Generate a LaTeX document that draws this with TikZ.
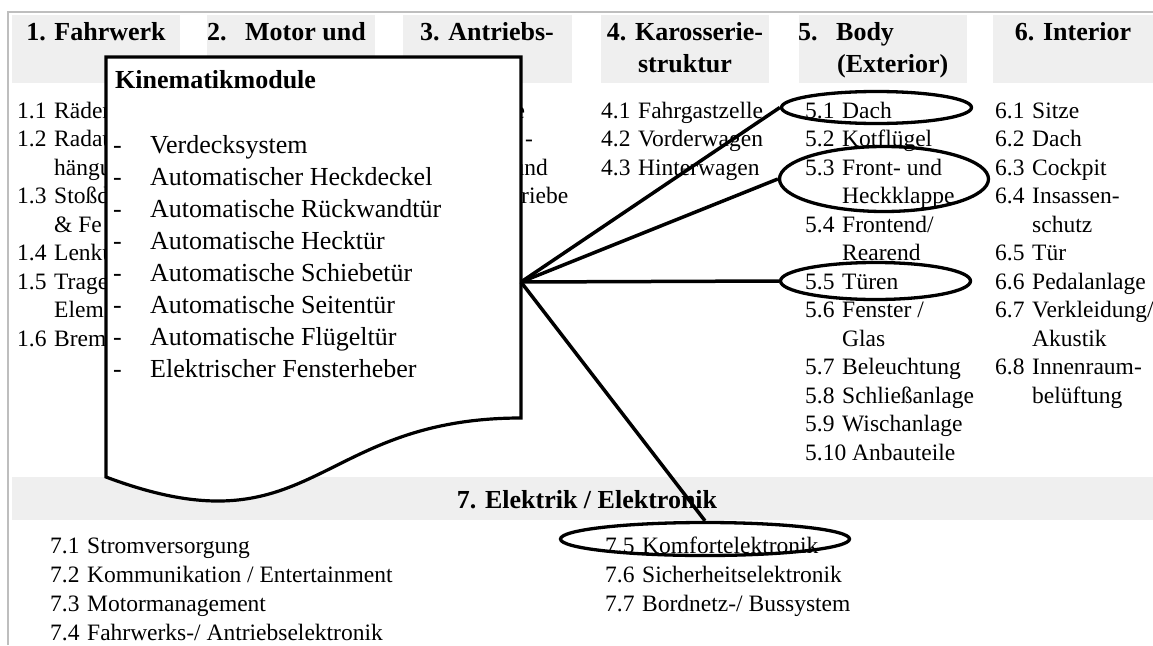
\documentclass[tikz,border=0pt]{standalone}
\usepackage{fontspec}
\setmainfont{Liberation Serif}
\usetikzlibrary{shapes.geometric}
\definecolor{hdrgray}{RGB}{239,239,239}
\definecolor{framegray}{RGB}{190,190,190}
% number followed by a tab stop
\newcommand{\nb}[2]{\makebox[37pt][l]{#1}#2}
\newcommand{\hnb}[2]{\makebox[38pt][l]{#1}#2}
\begin{document}
\begin{tikzpicture}[x=1pt,y=-1pt,
  hdrbox/.style={fill=hdrgray,draw=none},
  hdr/.style={font=\fontsize{26}{32}\selectfont\bfseries,inner sep=0,anchor=base},
  hdrl/.style={hdr,anchor=base west},
  itm/.style={font=\fontsize{23.5}{28}\selectfont,inner sep=0,anchor=base west},
  kin/.style={font=\fontsize{26}{32}\selectfont,inner sep=0,anchor=base west},
  hilite/.style={draw=black,line width=3.3pt,ellipse,inner sep=0,fill=none},
  link/.style={draw=black,line width=3.5pt},
  frameline/.style={draw=framegray,line width=2pt}]
\useasboundingbox (0,0) rectangle (1153,645);

% outer frame
\draw[frameline] (8,645) -- (8,12) -- (1153,12);

% column headers
\fill[hdrbox] (12,15) rectangle (180,83);
\fill[hdrbox] (207,15) rectangle (375,83);
\fill[hdrbox] (403,15) rectangle (572,83);
\fill[hdrbox] (601,15) rectangle (769,83);
\fill[hdrbox] (799,15) rectangle (967,83);
\fill[hdrbox] (993,15) rectangle (1153,83);
\fill[hdrbox] (12,477) rectangle (1153,520);

\node[hdr]  (h1)  at (96,40)  {1. Fahrwerk};
\node[hdrl] (h2)  at (207,40) {\hnb{2.}{Motor und}};
\node[hdr]  (h3)  at (487,40) {3. Antriebs-};
\node[hdr]  (h4)  at (685,40) {4. Karosserie-};
\node[hdr]  (h4b) at (685,72) {struktur};
\node[hdrl] (h5)  at (798,40) {\hnb{5.}{Body}};
\node[hdrl] (h5b) at (837,72) {(Exterior)};
\node[hdr]  (h6)  at (1073,40) {6. Interior};
\node[hdr]  (h7)  at (587,508) {7. Elektrik / Elektronik};

% columns 1 and 3 run under the module box: only their outer parts show
\begin{scope}
  \clip (0,90) rectangle (105,360);
  \foreach \t [count=\k from 0] in {{\nb{1.1}{Räder}},{\nb{1.2}{Radau}},{\nb{}{hängu}},
    {\nb{1.3}{Stoßd}},{\nb{}{\& Fe}},{\nb{1.4}{Lenku}},{\nb{1.5}{Trage}},
    {\nb{}{Elem}},{\nb{1.6}{Brem}}}
    \node[itm] (ca\k) at (17,118+28.5*\k) {\t};
\end{scope}
\begin{scope}
  \clip (522,90) rectangle (598,210);
  \foreach \t [count=\k from 0] in {{\nb{}{\phantom{Getrieb}e}},{\nb{}{\phantom{Antriebs}-}},
    {\nb{}{\phantom{wellen }und}},{\nb{}{\phantom{Achsget}riebe}}}
    \node[itm] (cc\k) at (407,118+28.5*\k) {\t};
\end{scope}

% column entries
\foreach \t [count=\k from 0] in {{\nb{4.1}{Fahrgastzelle}},{\nb{4.2}{Vorderwagen}},
  {\nb{4.3}{Hinterwagen}}}
  \node[itm] (cd\k) at (601,118+28.5*\k) {\t};
\foreach \t [count=\k from 0] in {{\nb{5.1}{Dach}},{\nb{5.2}{Kotflügel}},{\nb{5.3}{Front- und}},
  {\nb{}{Heckklappe}},{\nb{5.4}{Frontend/}},{\nb{}{Rearend}},{\nb{5.5}{Türen}},
  {\nb{5.6}{Fenster /}},{\nb{}{Glas}},{\nb{5.7}{Beleuchtung}},{\nb{5.8}{Schließanlage}},
  {\nb{5.9}{Wischanlage}},{5.10 Anbauteile}}
  \node[itm] (ce\k) at (805,118+28.5*\k) {\t};
\foreach \t [count=\k from 0] in {{\nb{6.1}{Sitze}},{\nb{6.2}{Dach}},{\nb{6.3}{Cockpit}},
  {\nb{6.4}{Insassen-}},{\nb{}{schutz}},{\nb{6.5}{Tür}},{\nb{6.6}{Pedalanlage}},
  {\nb{6.7}{Verkleidung/}},{\nb{}{Akustik}},{\nb{6.8}{Innenraum-}},{\nb{}{belüftung}}}
  \node[itm] (cf\k) at (995,118+28.5*\k) {\t};
\foreach \t [count=\k from 0] in {{\nb{7.1}{Stromversorgung}},
  {\nb{7.2}{Kommunikation / Entertainment}},{\nb{7.3}{Motormanagement}},
  {\nb{7.4}{Fahrwerks-/ Antriebselektronik}}}
  \node[itm] (cg\k) at (50,553+29*\k) {\t};
\foreach \t [count=\k from 0] in {{\nb{7.5}{Komfortelektronik}},
  {\nb{7.6}{Sicherheitselektronik}},{\nb{7.7}{Bordnetz-/ Bussystem}}}
  \node[itm] (ch\k) at (605,553+29*\k) {\t};

% document-shaped box listing the kinematic modules
\draw[line width=3.2pt,fill=white,line join=miter]
  (106,57) -- (521,57) -- (521,418)
  .. controls (313.5,418) and (313.5,555) .. (106,477) -- cycle;
\node[kin,font=\fontsize{26}{32}\selectfont\bfseries] (kt) at (115,88) {Kinematikmodule};
\foreach \t [count=\k from 0] in {Verdecksystem,Automatischer Heckdeckel,
  Automatische Rückwandtür,Automatische Hecktür,Automatische Schiebetür,
  Automatische Seitentür,Automatische Flügeltür,Elektrischer Fensterheber}
  \node[kin] (km\k) at (113,153+32*\k) {\makebox[37pt][l]{-}\t};

% highlighted entries
\node[hilite,minimum width=190pt,minimum height=32pt] (e51) at (876.5,107.5) {};
\node[hilite,minimum width=209pt,minimum height=65pt] (e53) at (884,179) {};
\node[hilite,minimum width=190pt,minimum height=37pt] (e55) at (875.5,281) {};
\node[hilite,minimum width=289pt,minimum height=33pt] (e75) at (705,539) {};

% connectors from the box
\coordinate (hub) at (521,282);
\draw[link] (hub) -- (e51.west);
\draw[link] (hub) -- (e53.west);
\draw[link] (hub) -- (e55.west);
\draw[link] (hub) -- (e75.north);
\end{tikzpicture}
\end{document}
